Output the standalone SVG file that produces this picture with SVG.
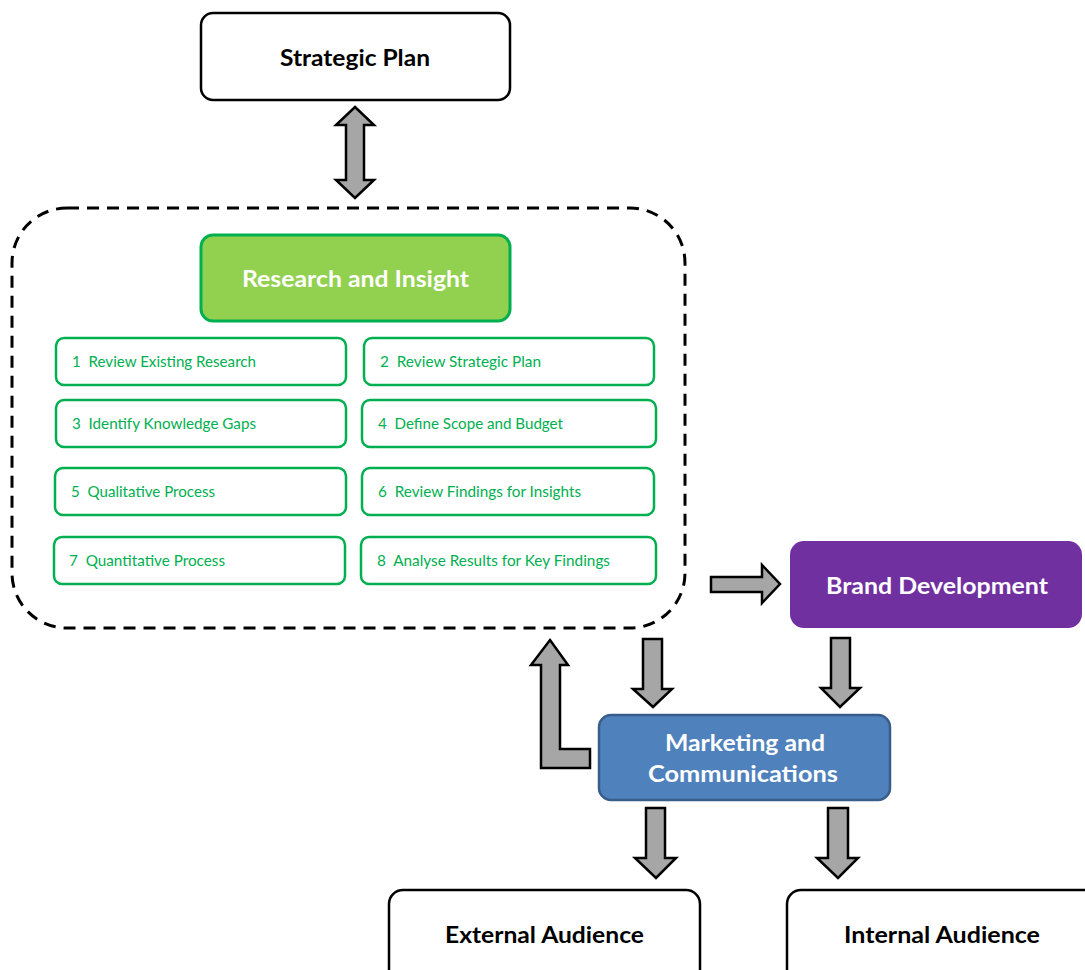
<svg xmlns="http://www.w3.org/2000/svg" width="1085" height="970" viewBox="0 0 1085 970">
<style>
.box{fill:#fff;stroke:#000;stroke-width:2.5}
.step{fill:#fff;stroke:#00B050;stroke-width:2.5}
.steptxt{font-family:Lato,"Open Sans","Liberation Sans",sans-serif;font-size:15px;fill:#00B050;white-space:pre}
.title{font-family:Lato,"Open Sans","Liberation Sans",sans-serif;font-size:22px;font-weight:bold;text-anchor:middle}
.arrow{fill:#A6A6A6;stroke:#000;stroke-width:2.5;stroke-linejoin:miter}
</style>
<rect width="1085" height="970" fill="#fff"/>
<g id="container">
<rect x="12" y="208" width="673" height="420" rx="55" ry="55" fill="none" stroke="#000" stroke-width="3" stroke-dasharray="12 8"/>
</g>
<g id="strategic-plan">
<rect class="box" x="201" y="13" width="309" height="87" rx="12"/>
<text class="title" x="355" y="66" fill="#000" textLength="150" lengthAdjust="spacingAndGlyphs">Strategic Plan</text>
</g>
<g id="research">
<rect x="201" y="235" width="309" height="86" rx="12" fill="#92D050" stroke="#00B050" stroke-width="3"/>
<text class="title" x="355.5" y="287" fill="#fff" textLength="227" lengthAdjust="spacingAndGlyphs">Research and Insight</text>
</g>
<g id="step1"><rect class="step" x="56" y="338" width="290" height="47" rx="8"/><text class="steptxt" x="72" y="367" textLength="184" lengthAdjust="spacingAndGlyphs" xml:space="preserve">1  Review Existing Research</text></g>
<g id="step2"><rect class="step" x="364" y="338" width="290" height="47" rx="8"/><text class="steptxt" x="380" y="367" textLength="161" lengthAdjust="spacingAndGlyphs" xml:space="preserve">2  Review Strategic Plan</text></g>
<g id="step3"><rect class="step" x="56" y="400" width="290" height="47" rx="8"/><text class="steptxt" x="72" y="429" textLength="184" lengthAdjust="spacingAndGlyphs" xml:space="preserve">3  Identify Knowledge Gaps</text></g>
<g id="step4"><rect class="step" x="362" y="400" width="294" height="47" rx="8"/><text class="steptxt" x="378" y="429" textLength="185" lengthAdjust="spacingAndGlyphs" xml:space="preserve">4  Define Scope and Budget</text></g>
<g id="step5"><rect class="step" x="55" y="468" width="291" height="47" rx="8"/><text class="steptxt" x="71" y="497" textLength="144" lengthAdjust="spacingAndGlyphs" xml:space="preserve">5  Qualitative Process</text></g>
<g id="step6"><rect class="step" x="362" y="468" width="292" height="47" rx="8"/><text class="steptxt" x="378" y="497" textLength="203" lengthAdjust="spacingAndGlyphs" xml:space="preserve">6  Review Findings for Insights</text></g>
<g id="step7"><rect class="step" x="54" y="537" width="291" height="47" rx="8"/><text class="steptxt" x="69" y="566" textLength="156" lengthAdjust="spacingAndGlyphs" xml:space="preserve">7  Quantitative Process</text></g>
<g id="step8"><rect class="step" x="361" y="537" width="295" height="47" rx="8"/><text class="steptxt" x="377" y="566" textLength="233" lengthAdjust="spacingAndGlyphs" xml:space="preserve">8  Analyse Results for Key Findings</text></g>
<g id="brand">
<rect x="790" y="541" width="292" height="87" rx="14" fill="#7030A0"/>
<text class="title" x="937" y="594" fill="#fff" textLength="222" lengthAdjust="spacingAndGlyphs">Brand Development</text>
</g>
<g id="marketing">
<rect x="599" y="715" width="291" height="85" rx="12" fill="#4F81BD" stroke="#385D8A" stroke-width="2.5"/>
<text class="title" x="745" y="751" fill="#fff" textLength="160" lengthAdjust="spacingAndGlyphs">Marketing and</text>
<text class="title" x="743" y="782" fill="#fff" textLength="190" lengthAdjust="spacingAndGlyphs">Communications</text>
</g>
<g id="external">
<rect class="box" x="389" y="890" width="311" height="100" rx="14"/>
<text class="title" x="544.5" y="943" fill="#000" textLength="199" lengthAdjust="spacingAndGlyphs">External Audience</text>
</g>
<g id="internal">
<rect class="box" x="787" y="890" width="320" height="100" rx="14"/>
<text class="title" x="942" y="943" fill="#000" textLength="196" lengthAdjust="spacingAndGlyphs">Internal Audience</text>
</g>
<g id="connectors">
<polygon class="arrow" points="355,107 374,125 364,125 364,180 374,180 355,198 336,180 346,180 346,125 336,125"/>
<polygon class="arrow" points="711,577 762,577 762,565 780,584 762,603 762,592 711,592"/>
<polygon class="arrow" points="643,639 662,639 662,689 672,689 653,707 633,689 643,689"/>
<polygon class="arrow" points="831,638 850,638 850,688 860,688 840,707 821,688 831,688"/>
<polygon class="arrow" points="646,808 665,808 665,858 676,858 656,878 635,858 646,858"/>
<polygon class="arrow" points="828,808 848,808 848,858 858,858 838,878 817,858 828,858"/>
<polygon class="arrow" points="550,640 568,665 560,665 560,749 590,749 590,768 541,768 541,665 531,665"/>
</g>
</svg>
